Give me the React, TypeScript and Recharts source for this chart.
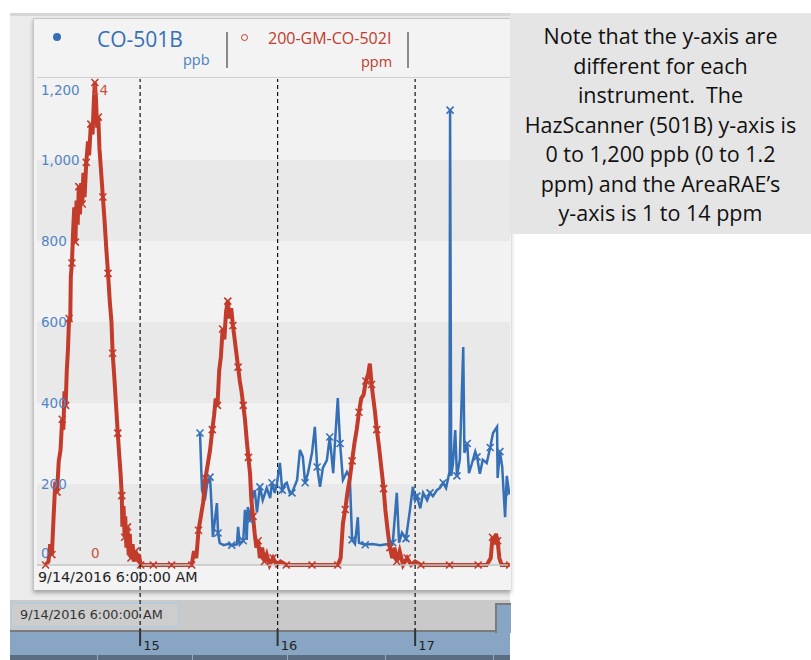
import React from "react";
import { LineChart, Line, XAxis, YAxis, CartesianGrid, ReferenceLine } from "recharts";

const START_LABEL = "9/14/2016 6:00:00 AM";
const BLUE_NAME = "CO-501B";
const BLUE_UNIT = "ppb";
const RED_NAME = "200-GM-CO-502I";
const RED_UNIT = "ppm";

// hours after 9/14/2016 6:00 AM
const dayHours = [18, 42, 66];
const dayLabels = ["15", "16", "17"];
const ppbTicks = [0, 200, 400, 600, 800, 1000, 1200];
const ppmTicks = [0, 14];

const redHours = [
  1.5, 2.0, 2.3, 2.6, 2.9, 3.2, 3.5, 3.8, 4.1, 4.4, 4.6, 4.8, 5.0, 5.2, 5.4, 5.6, 5.8, 5.9, 6.1, 6.3,
  6.5, 6.7, 6.9, 7.1, 7.3, 7.5, 7.7, 7.9, 8.1, 8.3, 8.6, 8.9, 9.1, 9.4, 9.7, 9.9, 10.1, 10.3, 10.5, 10.7,
  10.9, 11.2, 11.5, 11.8, 12.1, 12.4, 12.7, 13.0, 13.2, 13.5, 13.8, 14.1, 14.3, 14.6, 14.8, 14.9, 15.1, 15.3, 15.4, 15.6,
  15.8, 16.0, 16.2, 16.4, 16.7, 16.9, 17.2, 17.5, 17.8, 18.1, 19.0, 19.6, 20.3, 21.0, 22.0, 23.5, 25.0, 26.0, 27.0, 27.4,
  27.8, 28.2, 28.6, 29.0, 29.4, 29.8, 30.2, 30.6, 30.9, 31.2, 31.5, 31.8, 32.1, 32.4, 32.7, 33.0, 33.3, 33.6, 33.9, 34.2,
  34.5, 34.8, 35.1, 35.4, 35.7, 36.0, 36.3, 36.6, 36.9, 37.2, 37.4, 37.7, 38.0, 38.3, 38.6, 38.9, 39.3, 39.7, 40.1, 40.6,
  41.2, 41.8, 42.5, 43.5, 45.0, 46.5, 48.0, 49.5, 51.0, 52.5, 53.0, 53.4, 53.8, 54.2, 54.6, 55.0, 55.4, 55.8, 56.2, 56.6,
  57.0, 57.4, 57.8, 58.1, 58.4, 58.7, 59.0, 59.3, 59.7, 60.1, 60.5, 60.8, 61.2, 61.6, 62.0, 62.4, 62.8, 63.3, 63.9, 64.6,
  65.3, 66.0, 67.0, 68.5, 70.0, 72.0, 73.5, 75.5, 77.0, 78.5, 79.2, 79.5, 79.8, 80.1, 80.4, 80.7, 81.1, 82.5,
];
const redPpm = [
  0, 0.1, 0.6, 0.3, 1.4, 2.4, 2.1, 3.0, 3.3, 4.2, 3.9, 5.0, 4.6, 5.6, 6.2, 7.1, 7.0, 8.3, 8.7, 9.6,
  10.3, 9.3, 10.5, 9.8, 10.9, 10.1, 11.0, 10.4, 11.3, 10.6, 11.6, 12.2, 11.8, 12.7, 12.4, 13.3, 13.9, 13.4, 12.6, 12.9,
  12.0, 11.3, 10.6, 9.9, 9.1, 8.4, 7.6, 7.0, 6.1, 5.4, 4.6, 3.8, 3.3, 2.6, 2.0, 1.1, 1.7, 0.8, 1.4, 0.5,
  1.1, 0.3, 0.9, 0.2, 0.6, 0.1, 0.4, 0.1, 0.3, 0, 0, 0, 0, 0, 0, 0, 0, 0, 0, 0.4,
  0.2, 1.0, 1.4, 1.8, 2.5, 2.9, 3.3, 3.9, 4.3, 4.8, 4.6, 5.6, 6.0, 6.8, 6.5, 7.3, 7.6, 7.1, 7.4, 6.9,
  6.5, 6.1, 5.7, 5.3, 5.0, 4.6, 4.2, 3.6, 3.1, 2.6, 1.9, 1.4, 0.9, 0.5, 0.7, 0.2, 0.5, 0.1, 0.3, 0,
  0.2, 0, 0.1, 0, 0, 0, 0, 0, 0, 0, 0.2, 1.2, 1.6, 2.1, 2.5, 3.0, 3.5, 3.9, 4.4, 4.8,
  4.9, 5.3, 5.5, 5.8, 5.2, 4.8, 4.4, 3.9, 3.4, 2.8, 2.2, 1.6, 1.0, 0.5, 0.2, 0.5, 0.1, 0.4, 0, 0.2,
  0, 0.1, 0, 0, 0, 0, 0, 0, 0, 0, 0.2, 0.8, 0.6, 0.9, 0.7, 0.2, 0, 0,
];

const blueHours = [
  28.45, 28.8, 29.3, 29.7, 30.2, 30.5, 30.7, 31.4, 31.6, 31.9, 32.6, 33.3, 34.0, 34.9, 35.1, 35.4, 36.0, 36.3, 36.6, 36.8,
  37.2, 37.5, 38.0, 38.4, 38.9, 39.4, 40.1, 40.7, 41.0, 41.5, 41.9, 42.4, 42.8, 43.3, 43.6, 44.2, 44.5, 45.4, 45.9, 46.4,
  46.8, 47.3, 48.0, 48.5, 48.9, 49.4, 49.9, 50.6, 51.1, 51.7, 52.0, 52.5, 52.9, 53.4, 54.1, 54.6, 55.0, 55.5, 56.0, 56.2,
  57.3, 58.5, 59.9, 61.3, 62.1, 62.8, 63.2, 63.7, 64.4, 65.1, 65.6, 66.0, 66.3, 66.9, 67.4, 68.1, 68.6, 69.1, 69.8, 70.3,
  70.9, 71.4, 71.7, 72.0, 72.1, 72.3, 72.6, 73.0, 73.3, 73.8, 74.4, 74.6, 75.1, 75.4, 75.9, 76.5, 76.8, 77.3, 77.8, 78.5,
  79.1, 79.6, 80.3, 80.4, 80.8, 81.2, 81.7, 82.0, 82.4,
];
const bluePpb = [
  326, 185, 160, 200, 217, 136, 69, 153, 79, 54, 49, 52, 49, 51, 94, 51, 60, 136, 62, 143,
  110, 160, 185, 130, 193, 160, 190, 165, 203, 178, 203, 252, 185, 200, 203, 175, 178, 210, 284, 267,
  203, 227, 277, 341, 242, 193, 240, 259, 316, 227, 300, 412, 300, 210, 230, 217, 62, 52, 118, 55,
  50, 52, 49, 52, 55, 178, 55, 80, 65, 136, 193, 160, 170, 140, 178, 160, 178, 170, 185, 190,
  203, 190, 210, 230, 1123, 220, 250, 333, 220, 260, 538, 277, 300, 227, 250, 280, 267, 225, 260, 252,
  290, 326, 341, 215, 280, 242, 118, 220, 178,
];

const blueData = blueHours.map((h, i) => ({ h, v: bluePpb[i] }));
const redData = redHours.map((h, i) => ({ h, v: redPpm[i] }));

const BLUE = "#3570b6";
const RED = "#c23b2b";
const TICK_FONT = "DejaVu Sans";

// chart svg sits at page (33,18); plot spans page x 37..510, y 79..565
const CHART_W = 477;
const CHART_H = 642;
const PLOT_BOTTOM = 547;

function fmt(v: number) {
  return v >= 1000 ? `${Math.floor(v / 1000)},${String(v % 1000).padStart(3, "0")}` : String(v);
}

const PpbTick = (props: any) => {
  const { y, payload } = props;
  const v = payload.value;
  const dy = v === 1200 ? 11 : v === 0 ? -12 : 0;
  return (
    <text x={8} y={y + dy} dy="0.35em" fill="#5284c4" fontSize={13.5} fontFamily={TICK_FONT}>
      {fmt(v)}
    </text>
  );
};

const PpmTick = (props: any) => {
  const { y, payload } = props;
  const v = payload.value;
  const dy = v === 14 ? 11 : -12;
  return (
    <text x={58} y={y + dy} dy="0.35em" fill="#c8503f" fontSize={13.5} fontFamily={TICK_FONT}>
      {v}
    </text>
  );
};

const DayTick = (props: any) => {
  const { x, payload } = props;
  const label = dayLabels[dayHours.indexOf(payload.value)];
  return (
    <g>
      <line x1={x} x2={x} y1={PLOT_BOTTOM} y2={612} stroke="#111" strokeWidth={1.2} strokeDasharray="4 3" />
      <line x1={x} x2={x} y1={611} y2={628} stroke="#333" strokeWidth={2} />
      <text x={x + 3} y={632} fill="#222" fontSize={13} fontFamily={TICK_FONT}>
        {label}
      </text>
    </g>
  );
};

const xMark = (color: string, every: number) => (props: any) => {
  const { cx, cy, index } = props;
  if (cx == null || cy == null || index % every !== 0) return <g key={`m${index}`} />;
  const s = 3.5;
  return (
    <path
      key={`m${index}`}
      d={`M${cx - s},${cy - s}L${cx + s},${cy + s}M${cx - s},${cy + s}L${cx + s},${cy - s}`}
      stroke={color}
      strokeWidth={1.6}
      fill="none"
    />
  );
};

const noteLines = [
  "Note that the y-axis are",
  "different for each",
  "instrument.  The",
  "HazScanner (501B) y-axis is",
  "0 to 1,200 ppb (0 to 1.2",
  "ppm) and the AreaRAE\u2019s",
  "y-axis is 1 to 14 ppm",
];

const abs = (l: number, t: number, w: number, h: number, extra: React.CSSProperties = {}): React.CSSProperties => ({
  position: "absolute",
  left: l,
  top: t,
  width: w,
  height: h,
  boxSizing: "border-box",
  ...extra,
});

export default function App() {
  const uiFont = "'Open Sans', 'Noto Sans', sans-serif";
  return (
    <div style={{ position: "absolute", left: 0, top: 0, width: 811, height: 660, background: "#fff", overflow: "hidden" }}>
      {/* app background */}
      <div style={abs(10, 13, 500, 590, { background: "#ebebeb", borderTop: "3px solid #d6d6d6" })} />
      {/* chart panel */}
      <div
        style={abs(33, 18, 478, 572, {
          background: "#f3f3f3",
          borderLeft: "1px solid #c4c4c4",
          borderTop: "1px solid #c4c4c4",
          boxShadow: "0 3px 4px rgba(0,0,0,0.3)",
        })}
      />
      <div style={abs(37, 77, 473, 1, { background: "#cfcfcf" })} />

      {/* legend */}
      <div style={abs(53, 33, 8, 8, { borderRadius: 4, background: BLUE })} />
      <div style={{ position: "absolute", left: 97, top: 24, fontFamily: uiFont, fontSize: 21, color: BLUE, lineHeight: "30px" }}>{BLUE_NAME}</div>
      <div style={{ position: "absolute", left: 183, top: 51, fontFamily: uiFont, fontSize: 14.5, color: "#4a7fc0", lineHeight: "18px" }}>{BLUE_UNIT}</div>
      <div style={abs(226, 32, 2, 36, { background: "#8a8a8a" })} />
      <div style={abs(241, 34, 7, 7, { borderRadius: 4, border: `1.3px solid ${RED}` })} />
      <div style={{ position: "absolute", left: 268, top: 27, fontFamily: uiFont, fontSize: 16, color: RED, lineHeight: "22px" }}>{RED_NAME}</div>
      <div style={{ position: "absolute", left: 361, top: 53, fontFamily: uiFont, fontSize: 14.5, color: RED, lineHeight: "18px" }}>{RED_UNIT}</div>
      <div style={abs(407, 32, 2, 36, { background: "#8a8a8a" })} />

      {/* start time under plot */}
      <div style={{ position: "absolute", left: 38, top: 567, fontFamily: TICK_FONT, fontSize: 14.3, color: "#222", lineHeight: "20px" }}>
        {START_LABEL}
      </div>

      {/* time navigator strip */}
      <div style={abs(10, 600, 500, 32, { background: "#c9c9c9", borderBottom: "2px solid #7b7b7b" })} />
      <div style={abs(11, 603, 168, 24, { border: "1px solid #a9cbee", background: "#cdcdcd" })} />
      <div style={{ position: "absolute", left: 20, top: 606, fontFamily: TICK_FONT, fontSize: 12.8, color: "#333", lineHeight: "18px" }}>
        {START_LABEL}
      </div>
      <div style={abs(10, 632, 500, 23, { background: "#88a6c4" })} />
      <div style={abs(495, 603, 16, 30, { background: "#88a6c4", borderLeft: "2px solid #7b7b7b", borderTop: "2px solid #7b7b7b" })} />
      <div style={abs(10, 655, 500, 5, { background: "#5b6d80" })} />
      {[97, 192, 287, 385, 493].map((x) => (
        <div key={x} style={abs(x, 655, 1, 5, { background: "#9aaabb" })} />
      ))}

      {/* chart */}
      <div style={{ position: "absolute", left: 33, top: 18 }}>
        <LineChart width={CHART_W} height={CHART_H} margin={{ top: 61, right: 0, bottom: 65, left: 4 }}>
          <CartesianGrid
            horizontal
            vertical={false}
            stroke="transparent"
            yAxisId="ppb"
            horizontalFill={["#f2f2f2", "#e9e9e9"]}
            fillOpacity={1}
          />
          <XAxis
            type="number"
            dataKey="h"
            domain={[0, 82.56]}
            ticks={dayHours}
            interval={0}
            height={30}
            axisLine={{ stroke: "#c4c4c4", strokeWidth: 1.5 }}
            tickLine={false}
            tick={<DayTick />}
            allowDataOverflow
          />
          <YAxis yAxisId="ppb" domain={[0, 1200]} ticks={ppbTicks} mirror axisLine={false} tickLine={false} tick={<PpbTick />} />
          <YAxis yAxisId="ppm" domain={[0, 14]} ticks={ppmTicks} mirror axisLine={false} tickLine={false} tick={<PpmTick />} />
          {dayHours.map((d) => (
            <ReferenceLine key={d} x={d} yAxisId="ppb" stroke="#111" strokeWidth={1.2} strokeDasharray="4 3" />
          ))}
          <Line
            data={blueData}
            dataKey="v"
            name={BLUE_NAME}
            yAxisId="ppb"
            type="linear"
            stroke={BLUE}
            strokeWidth={2.5}
            dot={xMark(BLUE, 4)}
            activeDot={false}
            isAnimationActive={false}
          />
          <Line
            data={redData}
            dataKey="v"
            name={RED_NAME}
            yAxisId="ppm"
            type="linear"
            stroke={RED}
            strokeWidth={4}
            dot={xMark(RED, 3)}
            activeDot={false}
            isAnimationActive={false}
          />
        </LineChart>
      </div>

      {/* note */}
      <div
        style={abs(510, 13, 301, 221, {
          background: "#e5e5e5",
          fontFamily: uiFont,
          fontSize: 21.5,
          color: "#111",
          textAlign: "center",
          paddingTop: 8,
          lineHeight: "29.5px",
          whiteSpace: "pre",
        })}
      >
        {noteLines.map((l) => (
          <div key={l}>{l}</div>
        ))}
      </div>
    </div>
  );
}
